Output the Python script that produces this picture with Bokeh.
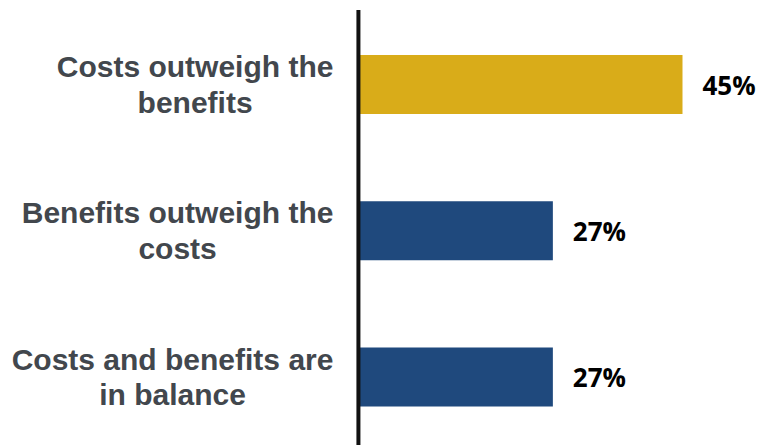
from bokeh.plotting import figure
from bokeh.models import ColumnDataSource, Range1d
from bokeh.core.properties import value
from bokeh.embed import file_html
from bokeh.resources import INLINE

categories = ["Costs outweigh the\nbenefits",
              "Benefits outweigh the\ncosts",
              "Costs and benefits are\nin balance"]
values = [45, 27, 27]
value_labels = ["45%", "27%", "27%"]
bar_colors = ["#D9AC19", "#1F497D", "#1F497D"]

n = len(categories)
ypos = [n - 1 - i for i in range(n)]

src = ColumnDataSource(dict(cat=categories, val=values, lab=value_labels,
                            color=bar_colors, y=ypos))

p = figure(width=761, height=445, output_backend="svg", toolbar_location=None,
           x_range=Range1d(-49.7, 55.97), y_range=Range1d(-0.469, 2.575),
           min_border=0, outline_line_color=None)
p.xaxis.visible = False
p.yaxis.visible = False
p.xgrid.visible = False
p.ygrid.visible = False
p.background_fill_color = "white"

p.hbar(y="y", left=0, right="val", height=0.404, color="color", line_color=None, source=src)

p.segment(x0=[0], y0=[-0.469], x1=[0], y1=[n - 1 + 0.51], line_color="#111111", line_width=4)

p.text(x=0, y="y", text="cat", source=src, x_offset=-25, anchor="center_right",
       text_align="center", text_baseline="middle",
       text_font=value("Liberation Sans"), text_font_style="bold", text_font_size="30px",
       text_color="#42474D", text_line_height=1.08)

p.text(x="val", y="y", text="lab", source=src, x_offset=20, text_align="left",
       text_baseline="middle", text_font=value("Open Sans"), text_font_style="bold",
       text_font_size="26px", text_color="#000000")

open("out.html", "w").write(file_html(p, INLINE))
